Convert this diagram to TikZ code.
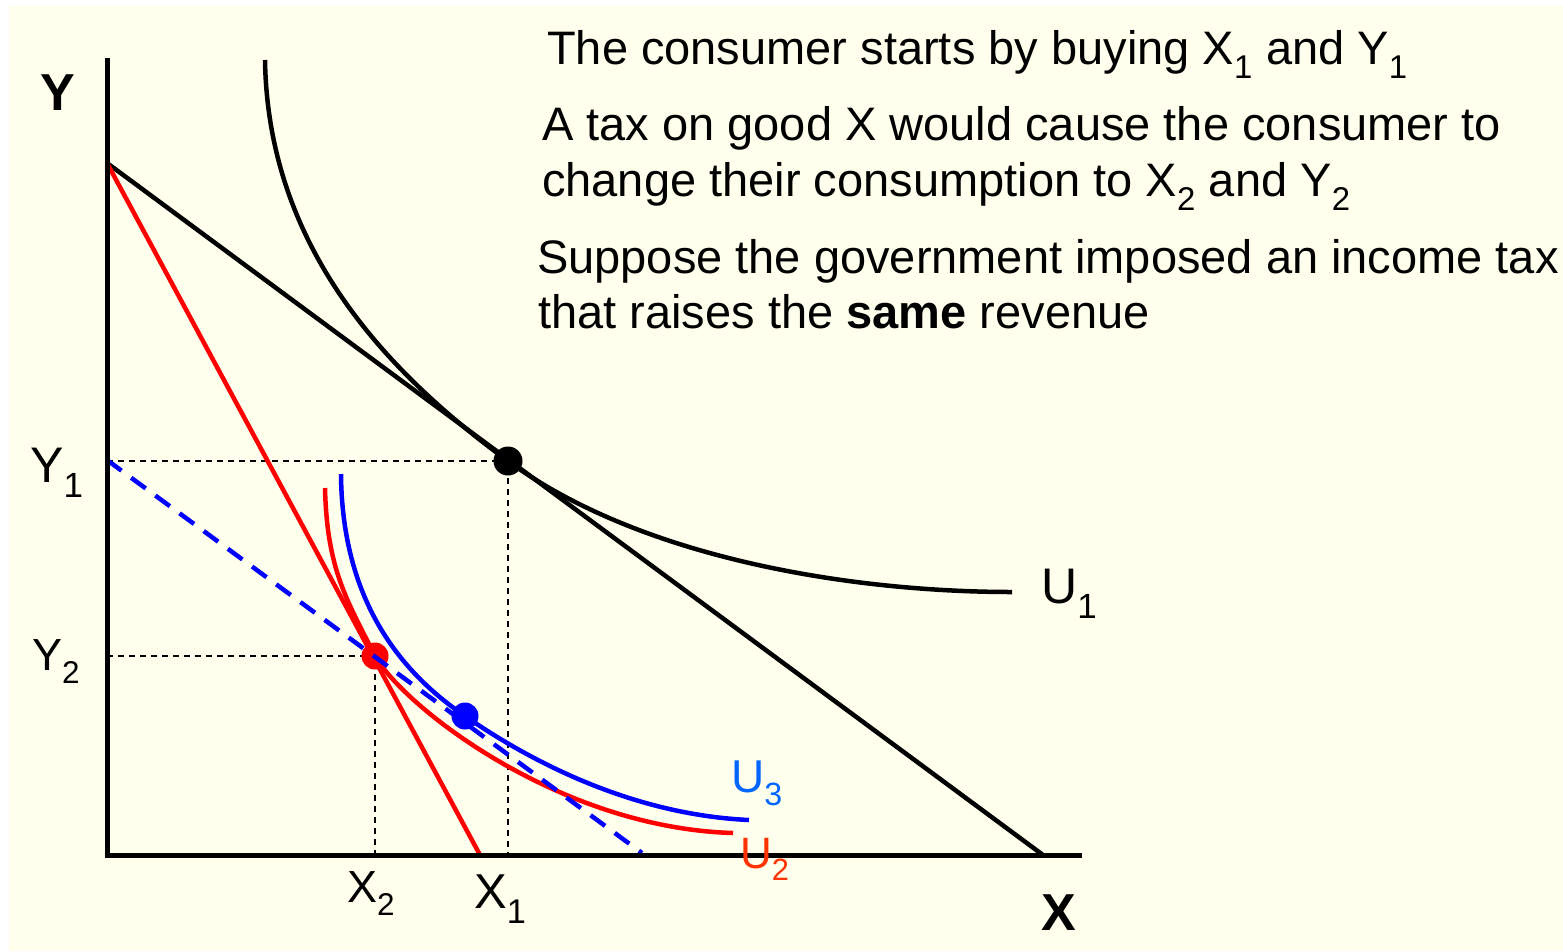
\documentclass[tikz,border=0pt]{standalone}
\usepackage{fontspec}
\setmainfont{Liberation Sans}
\usetikzlibrary{calc}
\definecolor{cream}{RGB}{255,255,238}
\definecolor{uthree}{RGB}{0,102,255}
\definecolor{utwo}{RGB}{255,51,0}
\newcommand{\fsz}[1]{\fontsize{#1}{#1}\selectfont}

\begin{document}
\begin{tikzpicture}[x=1pt, y=-1pt,
    every node/.style={inner sep=0pt, anchor=base west},
    guide/.style={line width=1.5pt, dash pattern=on 6pt off 5pt},
    curve/.style={line width=4.5pt}]
    \useasboundingbox (0,0) rectangle (1563,951);
    \fill[cream] (9,6) rectangle (1563,951);
    \coordinate (O) at (107,855); \coordinate (Ytop) at (107,58); \coordinate (Xend) at (1082,855);
    \coordinate (A) at (107,163); \coordinate (B) at (1043,855); \coordinate (R) at (480,855);
    \coordinate (C) at (107,460); \coordinate (D) at (642,853);
    \coordinate (E1) at (508,461); \coordinate (E2) at (375,656); \coordinate (E3) at (465,716);
    \draw[guide] (E1 -| O) -- (E1) -- (E1 |- O);
    \draw[guide] (E2 -| O) -- (E2) -- (E2 |- O);
    \draw[curve] (A) -- (B);
    \draw[curve, red] (A) -- (R);
    % indifference curves
    \draw[curve] (265,60) .. controls (268,250) and (390,375) .. (E1)
        .. controls (640,558) and (850,592) .. (1012,592);
    \draw[curve, red] (325,488) .. controls (327,570) and (347,600) .. (E2)
        .. controls (405,708) and (560,828) .. (733,833);
    \draw[curve, blue] (341,474) .. controls (342,600) and (400,672) .. (E3)
        .. controls (540,768) and (640,815) .. (749,820);
    \fill[red] (E2) circle (13.5);
    \draw[curve, blue, dash pattern=on 18pt off 12pt] (C) -- (D);
    \fill (E1) circle (14.5);
    \fill[blue] (E3) circle (13.5);
    \draw[line width=5pt] (Ytop) -- (O) -- (Xend);
    % labels
    \node (labY) at (40,110) {\fsz{52}\textbf{Y}};
    \node (labX) at (1041,930) {\fsz{52}\textbf{X}};
    \node (labY1) at (30,482) {\fsz{50}Y\textsubscript{1}};
    \node (labY2) at (32,670) {\fsz{45}Y\textsubscript{2}};
    \node (labX2) at (347,902) {\fsz{45}X\textsubscript{2}};
    \node (labX1) at (474,908) {\fsz{49}X\textsubscript{1}};
    \node (labU1) at (1041,603) {\fsz{50}U\textsubscript{1}};
    \node[text=uthree] (labU3) at (731,792) {\fsz{46}U\textsubscript{3}};
    \node[text=utwo] (labU2) at (740,868) {\fsz{44}U\textsubscript{2}};
    \node (l1) at (547,64) {\fsz{47}The consumer starts by buying X\textsubscript{1} and Y\textsubscript{1}};
    \node (l2) at (542,140) {\fsz{47}A tax on good X would cause the consumer to};
    \node (l3) at (542,196) {\fsz{47}change their consumption to X\textsubscript{2} and Y\textsubscript{2}};
    \node (l4) at (537,273) {\fsz{47}Suppose the government imposed an income tax};
    \node (l5) at (538,328) {\fsz{47}that raises the \textbf{same} revenue};
\end{tikzpicture}
\end{document}
